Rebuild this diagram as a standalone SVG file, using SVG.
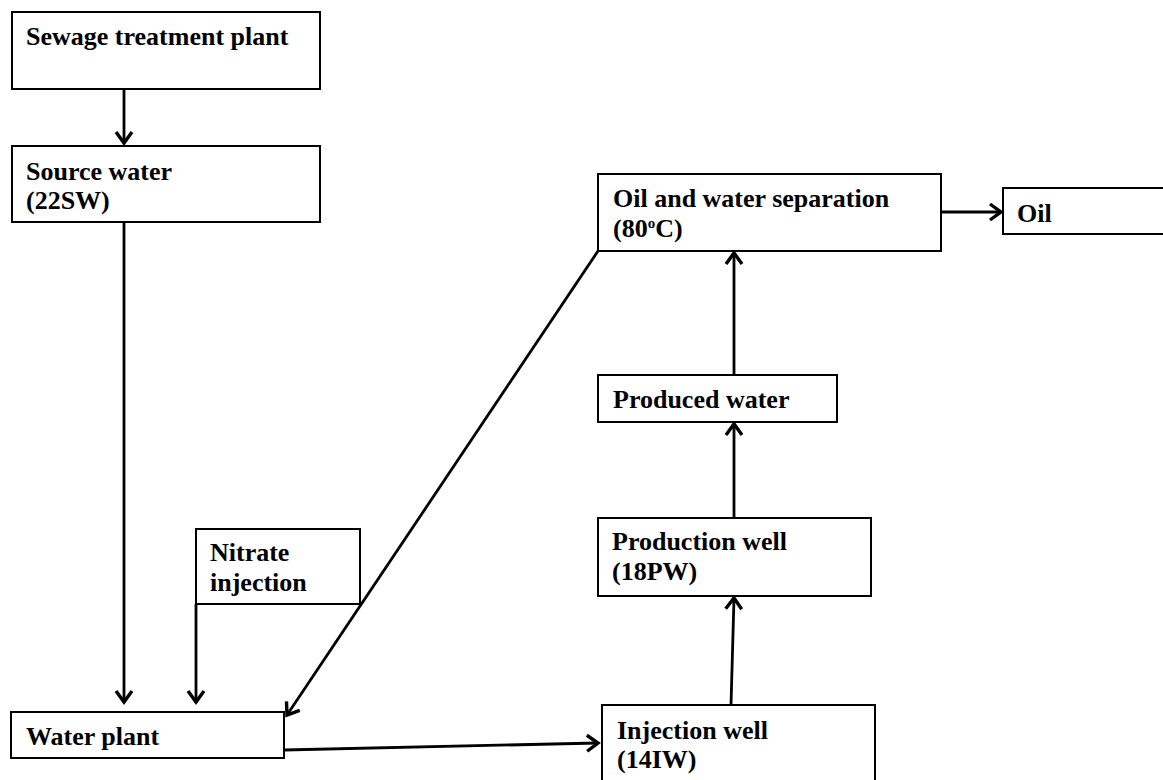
<svg xmlns="http://www.w3.org/2000/svg" width="1163" height="780" viewBox="0 0 1163 780">
  <style>
    .box { fill: #ffffff; stroke: #000000; stroke-width: 2; }
    .lbl { font-family: "Liberation Serif", "Times New Roman", serif; font-weight: bold; font-size: 26px; fill: #000000; }
    .conn { stroke: #000000; stroke-width: 2.8; fill: none; }
  </style>
  <defs>
    <marker id="arr" viewBox="-14 -10 18 20" markerWidth="18" markerHeight="20" refX="0" refY="0" orient="auto" markerUnits="userSpaceOnUse" overflow="visible">
      <path d="M-11,-8 L0,0 L-11,8" fill="none" stroke="#000000" stroke-width="3.4" stroke-linejoin="miter"/>
    </marker>
  </defs>
  <rect width="1163" height="780" fill="#ffffff"/>

  <g id="sewage">
    <rect class="box" x="12" y="12" width="308" height="77"/>
    <text class="lbl" x="26" y="45">Sewage treatment plant</text>
  </g>
  <g id="source">
    <rect class="box" x="12" y="146" width="308" height="76"/>
    <text class="lbl" x="26" y="180">Source water</text>
    <text class="lbl" x="26" y="209">(22SW)</text>
  </g>
  <g id="nitrate">
    <rect class="box" x="196" y="529" width="164" height="75"/>
    <text class="lbl" x="210" y="561">Nitrate</text>
    <text class="lbl" x="210" y="591">injection</text>
  </g>
  <g id="waterplant">
    <rect class="box" x="11" y="712" width="273" height="46"/>
    <text class="lbl" x="26" y="745">Water plant</text>
  </g>
  <g id="injection">
    <rect class="box" x="602" y="705" width="273" height="85"/>
    <text class="lbl" x="617" y="739">Injection well</text>
    <text class="lbl" x="617" y="768">(14IW)</text>
  </g>
  <g id="production">
    <rect class="box" x="598" y="518" width="273" height="78"/>
    <text class="lbl" x="612" y="550">Production well</text>
    <text class="lbl" x="612" y="580">(18PW)</text>
  </g>
  <g id="produced">
    <rect class="box" x="598" y="375" width="239" height="47"/>
    <text class="lbl" x="613" y="408">Produced water</text>
  </g>
  <g id="separation">
    <rect class="box" x="598" y="174" width="343" height="77"/>
    <text class="lbl" x="613" y="207">Oil and water separation</text>
    <text class="lbl" x="613" y="237">(80<tspan font-size="15" dy="-9">o</tspan><tspan dy="9">C)</tspan></text>
  </g>
  <g id="oil">
    <rect class="box" x="1003" y="188" width="200" height="46"/>
    <text class="lbl" x="1017" y="222">Oil</text>
  </g>

  <g id="connectors">
    <line class="conn" x1="124" y1="89" x2="124" y2="143" marker-end="url(#arr)"/>
    <line class="conn" x1="124" y1="222" x2="124" y2="702" marker-end="url(#arr)"/>
    <line class="conn" x1="196" y1="604" x2="196" y2="702" marker-end="url(#arr)"/>
    <line class="conn" x1="598" y1="251" x2="287" y2="715" marker-end="url(#arr)"/>
    <line class="conn" x1="284" y1="750" x2="598" y2="743" marker-end="url(#arr)"/>
    <line class="conn" x1="731" y1="705" x2="734" y2="598" marker-end="url(#arr)"/>
    <line class="conn" x1="734" y1="518" x2="734" y2="424" marker-end="url(#arr)"/>
    <line class="conn" x1="734" y1="375" x2="734" y2="253" marker-end="url(#arr)"/>
    <line class="conn" x1="941" y1="212" x2="1001" y2="212" marker-end="url(#arr)"/>
  </g>
</svg>
